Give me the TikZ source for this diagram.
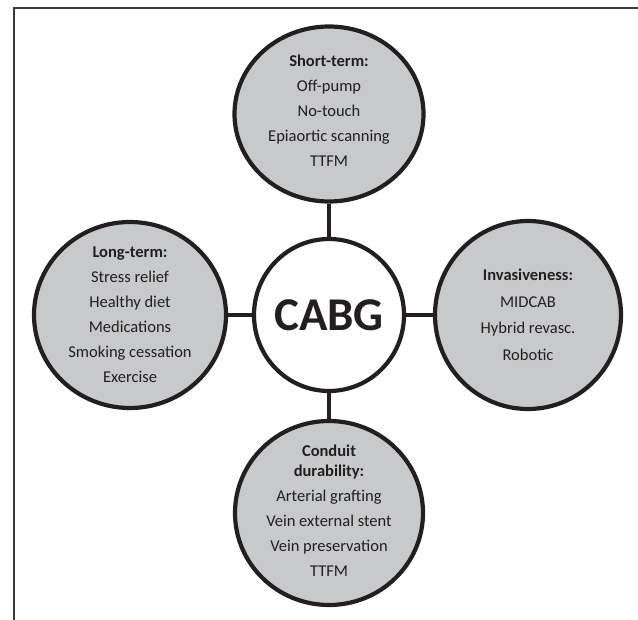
\documentclass[tikz,border=0pt]{standalone}
\usepackage{fontspec}
\setmainfont{Carlito}
\usetikzlibrary{shapes.geometric}
\definecolor{ink}{HTML}{231F20}
\definecolor{bubble}{HTML}{C8C9CB}
\definecolor{framec}{HTML}{3A3A3A}
\tikzset{
  bubblenode/.style={ellipse, draw=ink, line width=4.2pt, fill=bubble, inner sep=0pt},
  hubnode/.style={ellipse, draw=ink, line width=4.2pt, fill=white, inner sep=0pt},
  textnode/.style={align=center, text=ink, inner sep=0pt, font=\fontsize{16.5}{25}\selectfont},
  linkline/.style={draw=ink, line width=4.2pt},
}
\begin{document}
\begin{tikzpicture}[x=1pt, y=-1pt]
\useasboundingbox (0,0) rectangle (638,620);
\draw[framec, line width=2pt] (14,620) -- (14,8) -- (638,8);

\node[hubnode, minimum width=150pt, minimum height=152pt] (hub) at (329,315) {};
\node[bubblenode, minimum width=189pt, minimum height=175pt] (top) at (329,114) {};
\node[bubblenode, minimum width=188pt, minimum height=184pt] (bot) at (329,513) {};
\node[bubblenode, minimum width=192pt, minimum height=186pt] (lft) at (130,315) {};
\node[bubblenode, minimum width=186pt, minimum height=188pt] (rgt) at (528,315) {};

\draw[linkline] (top) -- (hub);
\draw[linkline] (bot) -- (hub);
\draw[linkline] (lft) -- (hub);
\draw[linkline] (rgt) -- (hub);

\node[text=ink, font=\fontsize{47}{50}\selectfont\bfseries] (hubtext) at (hub.center) {CABG};

\node[textnode] (toptext) at ([yshift=3pt]top.center) {\textbf{Short-term:}\\Off-pump\\No-touch\\Epiaortic scanning\\TTFM};
\node[textnode] (lfttext) at (lft.center) {\textbf{Long-term:}\\Stress relief\\Healthy diet\\Medications\\Smoking cessation\\Exercise};
\node[textnode, font=\fontsize{16.5}{26.5}\selectfont] (rgttext) at (rgt.center) {\textbf{Invasiveness:}\\MIDCAB\\Hybrid revasc.\\Robotic};
\node[textnode] (bottext) at ([yshift=2pt]bot.center) {\textbf{Conduit}\\[-5pt]\textbf{durability:}\\Arterial grafting\\Vein external stent\\Vein preservation\\TTFM};
\end{tikzpicture}
\end{document}
